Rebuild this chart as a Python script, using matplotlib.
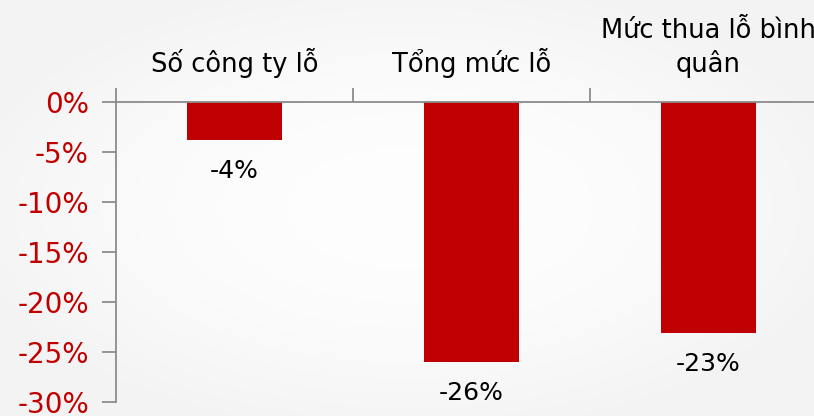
import matplotlib
matplotlib.use("Agg")
import matplotlib.pyplot as plt
import numpy as np
from matplotlib.ticker import FuncFormatter, MultipleLocator

categories = ["Số công ty lỗ", "Tổng mức lỗ", "Mức thua lỗ bình\nquân"]
values = [-3.8, -26.0, -23.1]
value_labels = ["-4%", "-26%", "-23%"]

RED = "#C00000"
GRAY = "#8c8c8c"

plt.rcParams['font.family'] = ['DejaVu Sans']

fig = plt.figure(figsize=(8.14, 4.16), dpi=100)
fig.patch.set_facecolor("#f8f8f8")
W, H = 814, 416

# subtle radial background gradient
bg = fig.add_axes([0, 0, 1, 1], zorder=-10)
gx, gy = np.meshgrid(np.linspace(-1, 1, 200), np.linspace(-1, 1, 100))
r = np.clip(np.sqrt((gx * 0.9) ** 2 + (gy * 0.9) ** 2), 0, 1)
shade = 0.995 - 0.04 * r ** 2
bg.imshow(np.dstack([shade, shade, shade]), aspect='auto', extent=[0, 1, 0, 1],
          interpolation='bilinear')
bg.set_axis_off()

x0, x1 = 116, 827
y0, y1 = 102, 402
ax = fig.add_axes([x0 / W, (H - y1) / H, (x1 - x0) / W, (y1 - y0) / H])
ax.set_facecolor("none")

x = np.arange(len(categories))
ax.bar(x, values, width=0.4, color=RED, zorder=3)

ax.set_xlim(-0.5, len(categories) - 0.5)
ax.set_ylim(-30, 0)

ax.yaxis.set_major_locator(MultipleLocator(5))
ax.yaxis.set_major_formatter(FuncFormatter(lambda v, p: f"{int(round(v))}%"))
ax.tick_params(axis='y', direction='out', length=10, width=1.3, color=GRAY,
               labelcolor=RED, labelsize=20, pad=9.5)

ax.xaxis.tick_top()
ax.set_xticks(x)
ax.set_xticklabels(categories, fontsize=18.5, linespacing=1.28)
ax.set_xticks(np.arange(-0.5, len(categories), 1.0), minor=True)
ax.tick_params(axis='x', which='major', length=0, pad=17, labelcolor='black')
ax.tick_params(axis='x', which='minor', direction='out', length=10, width=1.3, color=GRAY)

for s in ['right', 'bottom']:
    ax.spines[s].set_visible(False)
for s in ['left', 'top']:
    ax.spines[s].set_color(GRAY)
    ax.spines[s].set_linewidth(1.3)
    ax.spines[s].set_zorder(4)

for xi, v, lab in zip(x, values, value_labels):
    ax.annotate(lab, (xi, v), xytext=(0, -22), textcoords='offset points',
                ha='center', va='center', fontsize=18, color='black')

fig.savefig("out.png", dpi=100, facecolor=fig.get_facecolor())
